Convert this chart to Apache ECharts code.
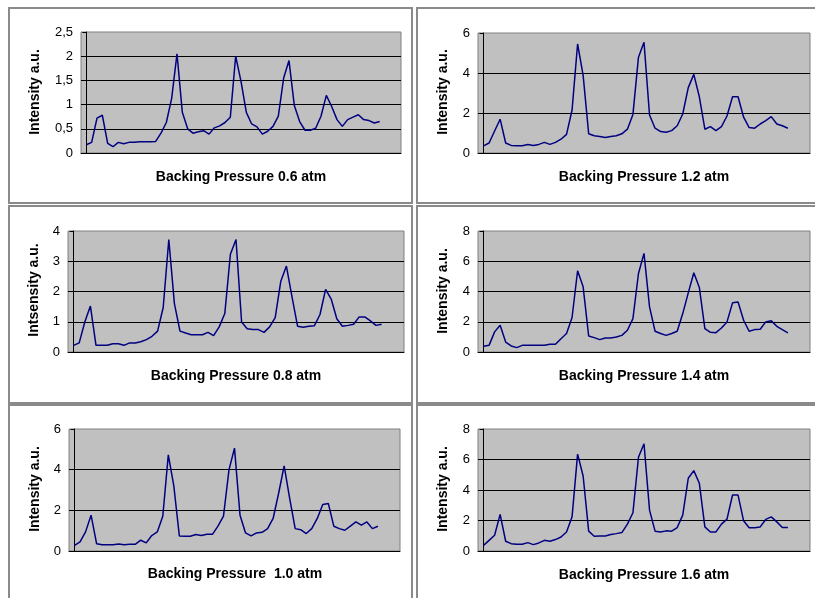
<!DOCTYPE html>
<html><head><meta charset="utf-8">
<script src="https://cdn.jsdelivr.net/npm/echarts@6/dist/echarts.min.js"></script>
<style>html,body{margin:0;padding:0;background:#fff}#c{width:815px;height:598px}</style>
</head><body><div id="c"></div>
<script>
// Intensity traces (a.u.), 56 samples each
const p06 = [0.17,0.22,0.72,0.78,0.20,0.13,0.22,0.19,0.22,0.22,0.23,0.23,0.23,0.24,0.41,0.63,1.13,2.05,0.84,0.50,0.41,0.44,0.46,0.39,0.52,0.56,0.63,0.74,2.00,1.48,0.84,0.60,0.54,0.39,0.45,0.55,0.76,1.55,1.91,0.98,0.65,0.47,0.47,0.51,0.76,1.19,0.96,0.69,0.55,0.69,0.74,0.79,0.69,0.67,0.62,0.65];
const p12 = [0.36,0.50,1.10,1.69,0.50,0.38,0.36,0.36,0.43,0.38,0.43,0.53,0.43,0.53,0.69,0.93,2.15,5.45,3.88,0.96,0.86,0.83,0.78,0.83,0.86,0.96,1.19,1.93,4.79,5.54,1.90,1.24,1.07,1.04,1.12,1.36,1.95,3.27,3.93,2.81,1.19,1.32,1.12,1.32,1.85,2.81,2.81,1.79,1.27,1.24,1.45,1.62,1.82,1.45,1.36,1.24];
const p08 = [0.22,0.30,0.99,1.52,0.22,0.22,0.22,0.27,0.27,0.22,0.30,0.30,0.34,0.41,0.52,0.69,1.47,3.72,1.60,0.69,0.63,0.57,0.57,0.57,0.65,0.54,0.83,1.27,3.23,3.72,0.99,0.77,0.74,0.74,0.65,0.83,1.14,2.34,2.84,1.82,0.85,0.82,0.85,0.87,1.24,2.07,1.75,1.10,0.85,0.88,0.92,1.16,1.16,1.03,0.88,0.92];
const p14 = [0.38,0.44,1.33,1.77,0.66,0.40,0.29,0.44,0.44,0.44,0.44,0.44,0.51,0.51,0.88,1.22,2.28,5.37,4.31,1.06,0.95,0.82,0.93,0.93,0.99,1.10,1.44,2.21,5.19,6.52,2.98,1.37,1.22,1.10,1.22,1.37,2.54,3.91,5.24,4.27,1.55,1.30,1.28,1.59,1.99,3.25,3.31,2.10,1.37,1.48,1.50,1.99,2.06,1.70,1.48,1.26];
const p10 = [0.28,0.45,0.94,1.76,0.36,0.31,0.31,0.31,0.35,0.31,0.33,0.33,0.53,0.40,0.76,0.94,1.71,4.73,3.20,0.74,0.73,0.73,0.81,0.76,0.82,0.82,1.22,1.71,3.99,5.06,1.76,0.89,0.74,0.89,0.92,1.10,1.60,2.84,4.19,2.59,1.10,1.05,0.86,1.10,1.60,2.29,2.34,1.22,1.10,1.02,1.22,1.43,1.27,1.43,1.10,1.22];
const p16 = [0.37,0.70,1.03,2.40,0.64,0.48,0.44,0.44,0.55,0.42,0.53,0.70,0.64,0.75,0.92,1.25,2.24,6.35,4.92,1.30,0.97,0.99,0.99,1.08,1.14,1.21,1.76,2.51,6.15,7.03,2.68,1.30,1.25,1.32,1.30,1.54,2.35,4.77,5.27,4.44,1.58,1.25,1.25,1.76,2.09,3.67,3.67,1.98,1.52,1.52,1.58,2.07,2.24,1.91,1.54,1.54];

const titles = ['Backing Pressure 0.6 atm','Backing Pressure 1.2 atm','Backing Pressure 0.8 atm','Backing Pressure 1.4 atm','Backing Pressure  1.0 atm','Backing Pressure 1.6 atm'];
const yNames = ['Intensity a.u.','Intensity a.u.','Intsensity a.u.','Intensity a.u.','Intensity a.u.','Intensity a.u.'];
const yMax = [2.5, 6, 4, 8, 6, 8];
const yStep = [0.5, 2, 1, 2, 2, 2];
const seriesData = [p06, p12, p08, p14, p10, p16];

// layout (pixels)
const grids = [
  {left:81, top:32, width:320, height:121},
  {left:478, top:33, width:332, height:120},
  {left:68, top:231, width:336, height:121},
  {left:478, top:231, width:332, height:121},
  {left:69, top:429, width:331, height:122},
  {left:478, top:429, width:332, height:122}
];
const panels = [
  {x:9, y:8, w:403, h:195},
  {x:417, y:8, w:410, h:195},
  {x:9, y:206, w:403, h:197},
  {x:417, y:206, w:410, h:197},
  {x:9, y:405, w:403, h:210},
  {x:417, y:405, w:410, h:210}
];
const titlePos = [[241,177],[644,177],[236,376],[644,376],[235,574],[644,575]];
const yNamePos = [[35,92],[443,92],[34,290],[443,291],[35,489],[443,489]];

const FONT = '"Liberation Sans", Arial, sans-serif';
const chart = echarts.init(document.getElementById('c'), null, {renderer:'canvas'});

const graphic = [];
panels.forEach(p => graphic.push({type:'rect', shape:{x:p.x, y:p.y, width:p.w, height:p.h}, style:{fill:'#fff', stroke:'#8a8a8a', lineWidth:2}, z:-10}));
titles.forEach((t,i) => graphic.push({type:'text', x:titlePos[i][0], y:titlePos[i][1], style:{text:t, font:'bold 14px '+FONT, fill:'#000', align:'center', verticalAlign:'middle'}, z:10}));
yNames.forEach((t,i) => graphic.push({type:'text', x:yNamePos[i][0], y:yNamePos[i][1], rotation:Math.PI/2, style:{text:t, font:'bold 14px '+FONT, fill:'#000', align:'center', verticalAlign:'middle'}, z:10}));

const option = {
  animation:false,
  backgroundColor:'#fff',
  graphic: graphic,
  grid: grids.map(g => Object.assign({show:true, backgroundColor:'#C0C0C0', borderColor:'#808080', borderWidth:1, containLabel:false}, g)),
  xAxis: grids.map((g,i) => ({
    type:'value', gridIndex:i, min:-1, max:59,
    axisLine:{show:true, onZero:false, lineStyle:{color:'#000', width:1}},
    axisTick:{show:false}, axisLabel:{show:false}, splitLine:{show:false}
  })),
  yAxis: grids.map((g,i) => ({
    type:'value', gridIndex:i, min:0, max:yMax[i], interval:yStep[i],
    axisLine:{show:true, lineStyle:{color:'#000', width:1}},
    axisTick:{show:true, inside:false, length:4, lineStyle:{color:'#000'}},
    axisLabel:{color:'#000', fontSize:13, fontFamily:FONT, margin:8, formatter: v => String(v).replace('.', ',')},
    splitLine:{show:true, showMinLine:false, showMaxLine:false, lineStyle:{color:'#000', width:1}}
  })),
  series: seriesData.map((d,i) => ({
    type:'line', xAxisIndex:i, yAxisIndex:i, showSymbol:false, symbol:'none',
    lineStyle:{color:'#000080', width:1.5}, itemStyle:{color:'#000080'},
    data: d.map((v,k) => [k, v])
  }))
};
chart.setOption(option);
</script></body></html>
